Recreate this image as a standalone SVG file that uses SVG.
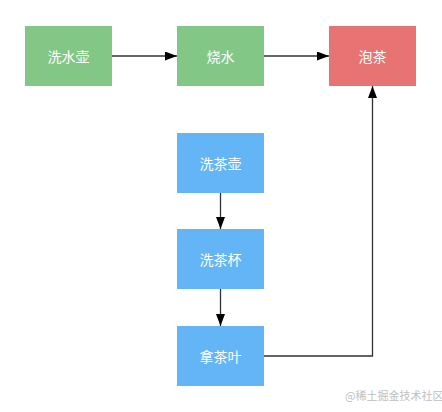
<svg xmlns="http://www.w3.org/2000/svg" width="442" height="412" viewBox="0 0 442 412">
<style>
.g{fill:#82c785}.r{fill:#e77373}.b{fill:#64b5f6}
.t{fill:#fff;font-family:"Noto Sans CJK SC","Noto Sans",sans-serif;font-size:14px;text-anchor:middle;dominant-baseline:central}
.c{fill:none;stroke:#333;stroke-width:1.3}
.w{fill:#c0c0c0;font-family:"Noto Sans CJK SC",sans-serif;font-size:11px}
</style>
<defs>
<marker id="a" viewBox="0 0 12 9" refX="12" refY="4.5" markerWidth="12" markerHeight="9" markerUnits="userSpaceOnUse" orient="auto">
<path d="M0,0L12,4.5L0,9z" fill="#000"/>
</marker>
</defs>
<rect width="442" height="412" fill="#fff"/>
<g id="n1"><rect class="g" x="25" y="26" width="87" height="60"/><text class="t" x="68.5" y="56">洗水壶</text></g>
<g id="n2"><rect class="g" x="177" y="26" width="87" height="60"/><text class="t" x="220.5" y="56">烧水</text></g>
<g id="n3"><rect class="r" x="329" y="26" width="87" height="60"/><text class="t" x="372.5" y="56">泡茶</text></g>
<g id="n4"><rect class="b" x="177" y="133" width="87" height="60"/><text class="t" x="220.5" y="163">洗茶壶</text></g>
<g id="n5"><rect class="b" x="177" y="229" width="87" height="60"/><text class="t" x="220.5" y="259">洗茶杯</text></g>
<g id="n6"><rect class="b" x="177" y="326" width="87" height="60"/><text class="t" x="220.5" y="356">拿茶叶</text></g>
<g id="connectors">
<path class="c" d="M112,56H177" marker-end="url(#a)"/>
<path class="c" d="M264,56H329" marker-end="url(#a)"/>
<path class="c" d="M220.5,193V229" marker-end="url(#a)"/>
<path class="c" d="M220.5,289V326" marker-end="url(#a)"/>
<path class="c" d="M264,356H372.5V86" marker-end="url(#a)"/>
</g>
<text class="w" x="345" y="400">@稀土掘金技术社区</text>
</svg>
